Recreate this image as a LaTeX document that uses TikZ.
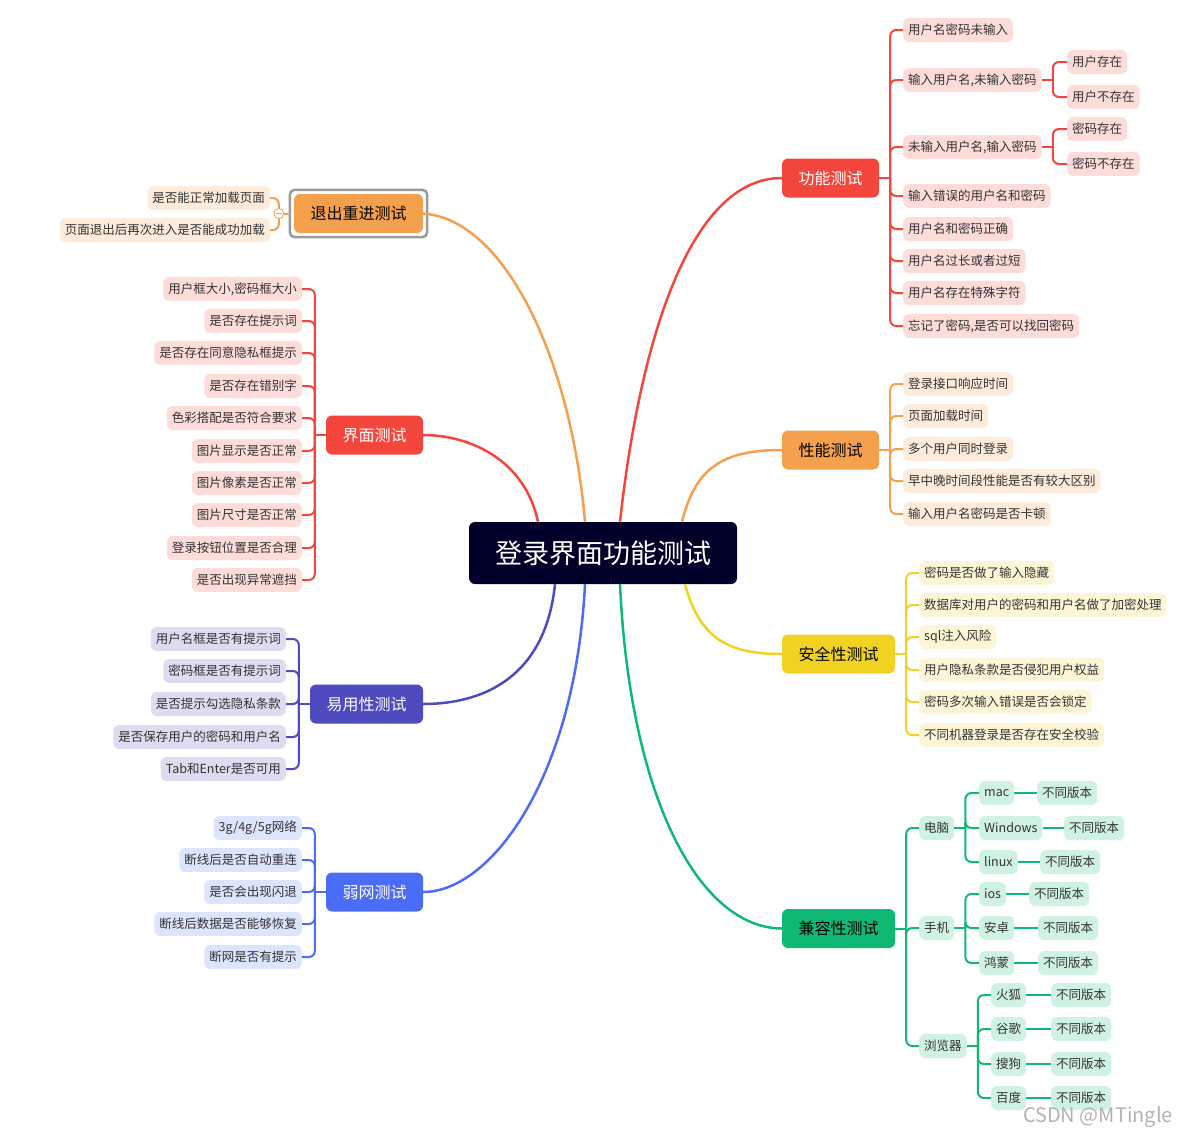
\documentclass[tikz,border=0pt]{standalone}
\usepackage{fontspec}
\setmainfont{Noto Sans CJK SC}
\definecolor{cRed}{HTML}{F4463C}
\definecolor{cOrg}{HTML}{F5A04D}
\definecolor{cYel}{HTML}{F1D223}
\definecolor{cGrn}{HTML}{0FB974}
\definecolor{cPur}{HTML}{4E4AC0}
\definecolor{cBlu}{HTML}{4A6CF7}
\definecolor{cRoot}{HTML}{00002A}
\definecolor{lRed}{HTML}{FEDCDA}
\definecolor{lOrg}{HTML}{FDEBDB}
\definecolor{lYel}{HTML}{FCF6D7}
\definecolor{lGrn}{HTML}{CFF2E3}
\definecolor{lPur}{HTML}{DDDCF1}
\definecolor{lBlu}{HTML}{DDE4FD}
\definecolor{txt}{HTML}{333333}
\definecolor{selgray}{HTML}{9A9A9A}
\begin{document}
\begin{tikzpicture}[x=1pt,y=-1pt,
  leaf/.style={rounded corners=6pt, inner xsep=5pt, inner ysep=0pt, minimum height=24pt, text=txt, font=\fontsize{12.5}{14}\selectfont},
  lr/.style={leaf, fill=lRed, anchor=west}, ll/.style={leaf, fill=lRed, anchor=east},
  or/.style={leaf, fill=lOrg, anchor=west}, ol/.style={leaf, fill=lOrg, anchor=east},
  yr/.style={leaf, fill=lYel, anchor=west},
  gr/.style={leaf, fill=lGrn, anchor=west},
  pl/.style={leaf, fill=lPur, anchor=east},
  bl/.style={leaf, fill=lBlu, anchor=east},
  topic/.style={rounded corners=6pt, minimum height=39pt, inner sep=0pt, font=\fontsize{16}{18}\selectfont},
  br/.style={line width=2pt, rounded corners=6pt},
  mainc/.style={line width=2.5pt}
]
\useasboundingbox (0,0) rectangle (1177,1138);

% root
\node[fill=cRoot, text=white, rounded corners=6pt, minimum width=268pt, minimum height=62pt, inner sep=0pt, font=\fontsize{27}{30}\selectfont] (root) at (603,553) {登录界面功能测试};

% topics
\node[topic, fill=cRed, text=white, minimum width=97pt] (gn) at (830.5,178) {功能测试};
\node[topic, fill=cOrg, text=black, minimum width=97pt] (xn) at (830.5,450) {性能测试};
\node[topic, fill=cYel, text=black, minimum width=113pt] (aq) at (838.5,654) {安全性测试};
\node[topic, fill=cGrn, text=black, minimum width=113pt] (jr) at (838.5,928.5) {兼容性测试};
\node[topic, fill=cOrg, text=black, minimum width=129pt] (tc) at (358.5,213.5) {退出重进测试};
\draw[selgray, line width=2.5pt, rounded corners=5pt] ([xshift=-4pt,yshift=4pt]tc.north west) rectangle ([xshift=4pt,yshift=-4pt]tc.south east);
\node[topic, fill=cRed, text=white, minimum width=97pt] (jm) at (374.5,435) {界面测试};
\node[topic, fill=cPur, text=white, minimum width=113pt] (yy) at (366.5,704) {易用性测试};
\node[topic, fill=cBlu, text=white, minimum width=97pt] (rw) at (374.5,892) {弱网测试};

% main curves
\draw[mainc, cRed] ([xshift=17pt]root.north) .. controls (640,340) and (690,178) .. (gn.west);
\draw[mainc, cOrg] ([xshift=79pt]root.north) .. controls (695,470) and (720,450) .. (xn.west);
\draw[mainc, cOrg] ([xshift=-18pt]root.north) .. controls (570,350) and (500,214) .. ([xshift=-4pt]tc.east);
\draw[mainc, cRed] ([xshift=-65pt]root.north) .. controls (525,460) and (470,435) .. (jm.east);
\draw[mainc, cPur] ([xshift=-48pt]root.south) .. controls (545,680) and (480,704) .. (yy.east);
\draw[mainc, cBlu] ([xshift=-18pt]root.south) .. controls (575,780) and (490,892) .. (rw.east);
\draw[mainc, cGrn] ([xshift=17pt]root.south) .. controls (630,800) and (700,928) .. (jr.west);
\draw[mainc, cYel] ([xshift=82pt]root.south) .. controls (700,640) and (730,654) .. (aq.west);

% 功能测试
\node[lr] (g1) at (903,30) {用户名密码未输入};
\node[lr] (g2) at (903,80) {输入用户名,未输入密码};
\node[lr] (g3) at (903,147) {未输入用户名,输入密码};
\node[lr] (g4) at (903,196) {输入错误的用户名和密码};
\node[lr] (g5) at (903,229) {用户名和密码正确};
\node[lr] (g6) at (903,261) {用户名过长或者过短};
\node[lr] (g7) at (903,293) {用户名存在特殊字符};
\node[lr] (g8) at (903,326) {忘记了密码,是否可以找回密码};
\node[lr] (g2a) at (1067,62) {用户存在};
\node[lr] (g2b) at (1067,97) {用户不存在};
\node[lr] (g3a) at (1067,129) {密码存在};
\node[lr] (g3b) at (1067,164) {密码不存在};
\coordinate (jgn) at ([xshift=11pt]gn.east);
\draw[br, cRed] (gn.east) -- (jgn);
\foreach \c in {g1,g2,g3,g4,g5,g6,g7,g8} \draw[br, cRed] (jgn) |- (\c.west);
\coordinate (jg2) at ([xshift=11pt]g2.east);
\draw[br, cRed] (g2.east) -- (jg2);
\foreach \c in {g2a,g2b} \draw[br, cRed] (jg2) |- (\c.west);
\coordinate (jg3) at ([xshift=11pt]g3.east);
\draw[br, cRed] (g3.east) -- (jg3);
\foreach \c in {g3a,g3b} \draw[br, cRed] (jg3) |- (\c.west);

% 性能测试
\node[or] (x1) at (903,384) {登录接口响应时间};
\node[or] (x2) at (903,416) {页面加载时间};
\node[or] (x3) at (903,449) {多个用户同时登录};
\node[or] (x4) at (903,481) {早中晚时间段性能是否有较大区别};
\node[or] (x5) at (903,514) {输入用户名密码是否卡顿};
\coordinate (jxn) at ([xshift=11pt]xn.east);
\draw[br, cOrg] (xn.east) -- (jxn);
\foreach \c in {x1,x2,x3,x4,x5} \draw[br, cOrg] (jxn) |- (\c.west);

% 安全性测试
\node[yr] (a1) at (919,573) {密码是否做了输入隐藏};
\node[yr] (a2) at (919,605) {数据库对用户的密码和用户名做了加密处理};
\node[yr] (a3) at (919,637) {sql注入风险};
\node[yr] (a4) at (919,670) {用户隐私条款是否侵犯用户权益};
\node[yr] (a5) at (919,702) {密码多次输入错误是否会锁定};
\node[yr] (a6) at (919,735) {不同机器登录是否存在安全校验};
\coordinate (jaq) at ([xshift=11pt]aq.east);
\draw[br, cYel] (aq.east) -- (jaq);
\foreach \c in {a1,a2,a3,a4,a5,a6} \draw[br, cYel] (jaq) |- (\c.west);

% 兼容性测试
\node[gr] (dn) at (919,828) {电脑};
\node[gr] (sj) at (919,928) {手机};
\node[gr] (ll) at (919,1046) {浏览器};
\coordinate (jjr) at ([xshift=11pt]jr.east);
\draw[br, cGrn] (jr.east) -- (jjr);
\foreach \c in {dn,sj,ll} \draw[br, cGrn] (jjr) |- (\c.west);
\node[gr] (mac) at (979,793) {mac};
\node[gr] (win) at (979,828) {Windows};
\node[gr] (lin) at (979,862) {linux};
\node[gr] (macv) at (1037,793) {不同版本};
\node[gr] (winv) at (1064,828) {不同版本};
\node[gr] (linv) at (1040,862) {不同版本};
\coordinate (jdn) at ([xshift=11pt]dn.east);
\draw[br, cGrn] (dn.east) -- (jdn);
\foreach \c in {mac,win,lin} {\draw[br, cGrn] (jdn) |- (\c.west); \draw[br, cGrn] (\c.east) -- (\c v.west);}
\node[gr] (ios) at (979,894) {ios};
\node[gr] (az) at (979,928) {安卓};
\node[gr] (hm) at (979,963) {鸿蒙};
\node[gr] (iosv) at (1029,894) {不同版本};
\node[gr] (azv) at (1038,928) {不同版本};
\node[gr] (hmv) at (1038,963) {不同版本};
\coordinate (jsj) at ([xshift=11pt]sj.east);
\draw[br, cGrn] (sj.east) -- (jsj);
\foreach \c in {ios,az,hm} {\draw[br, cGrn] (jsj) |- (\c.west); \draw[br, cGrn] (\c.east) -- (\c v.west);}
\node[gr] (hh) at (991,995) {火狐};
\node[gr] (gg) at (991,1029) {谷歌};
\node[gr] (sg) at (991,1064) {搜狗};
\node[gr] (bd) at (991,1098) {百度};
\node[gr] (hhv) at (1051,995) {不同版本};
\node[gr] (ggv) at (1051,1029) {不同版本};
\node[gr] (sgv) at (1051,1064) {不同版本};
\node[gr] (bdv) at (1051,1098) {不同版本};
\coordinate (jll) at ([xshift=11pt]ll.east);
\draw[br, cGrn] (ll.east) -- (jll);
\foreach \c in {hh,gg,sg,bd} {\draw[br, cGrn] (jll) |- (\c.west); \draw[br, cGrn] (\c.east) -- (\c v.west);}

% 退出重进测试
\node[ol] (t1) at (270,198) {是否能正常加载页面};
\node[ol] (t2) at (270,230) {页面退出后再次进入是否能成功加载};
\coordinate (jtc) at ([xshift=-15pt]tc.west);
\draw[br, cOrg] ([xshift=-4pt]tc.west) -- (jtc);
\foreach \c in {t1,t2} \draw[br, cOrg] (jtc) |- (\c.east);
\node[circle, draw=cOrg, line width=0.8pt, fill=white, minimum size=10pt, inner sep=0pt] (col) at (jtc) {};
\draw[cOrg, line width=0.8pt] ([xshift=-3pt]col.center) -- ([xshift=3pt]col.center);

% 界面测试
\node[ll] (m1) at (302,289) {用户框大小,密码框大小};
\node[ll] (m2) at (302,321) {是否存在提示词};
\node[ll] (m3) at (302,353) {是否存在同意隐私框提示};
\node[ll] (m4) at (302,386) {是否存在错别字};
\node[ll] (m5) at (302,418) {色彩搭配是否符合要求};
\node[ll] (m6) at (302,451) {图片显示是否正常};
\node[ll] (m7) at (302,483) {图片像素是否正常};
\node[ll] (m8) at (302,515) {图片尺寸是否正常};
\node[ll] (m9) at (302,548) {登录按钮位置是否合理};
\node[ll] (m10) at (302,580) {是否出现异常遮挡};
\coordinate (jjm) at ([xshift=-11pt]jm.west);
\draw[br, cRed] (jm.west) -- (jjm);
\foreach \c in {m1,m2,m3,m4,m5,m6,m7,m8,m9,m10} \draw[br, cRed] (jjm) |- (\c.east);

% 易用性测试
\node[pl] (y1) at (286,639) {用户名框是否有提示词};
\node[pl] (y2) at (286,671) {密码框是否有提示词};
\node[pl] (y3) at (286,704) {是否提示勾选隐私条款};
\node[pl] (y4) at (286,737) {是否保存用户的密码和用户名};
\node[pl] (y5) at (286,769) {Tab和Enter是否可用};
\coordinate (jyy) at ([xshift=-11pt]yy.west);
\draw[br, cPur] (yy.west) -- (jyy);
\foreach \c in {y1,y2,y3,y4,y5} \draw[br, cPur] (jyy) |- (\c.east);

% 弱网测试
\node[bl] (r1) at (302,828) {3g/4g/5g网络};
\node[bl] (r2) at (302,860) {断线后是否自动重连};
\node[bl] (r3) at (302,892) {是否会出现闪退};
\node[bl] (r4) at (302,924) {断线后数据是否能够恢复};
\node[bl] (r5) at (302,957) {断网是否有提示};
\coordinate (jrw) at ([xshift=-11pt]rw.west);
\draw[br, cBlu] (rw.west) -- (jrw);
\foreach \c in {r1,r2,r3,r4,r5} \draw[br, cBlu] (jrw) |- (\c.east);

% watermark
\node[anchor=east, text=black!30, font=\fontsize{20}{22}\selectfont, inner sep=0pt] (wm) at (1173,1117) {CSDN @MTingle};
\end{tikzpicture}
\end{document}
